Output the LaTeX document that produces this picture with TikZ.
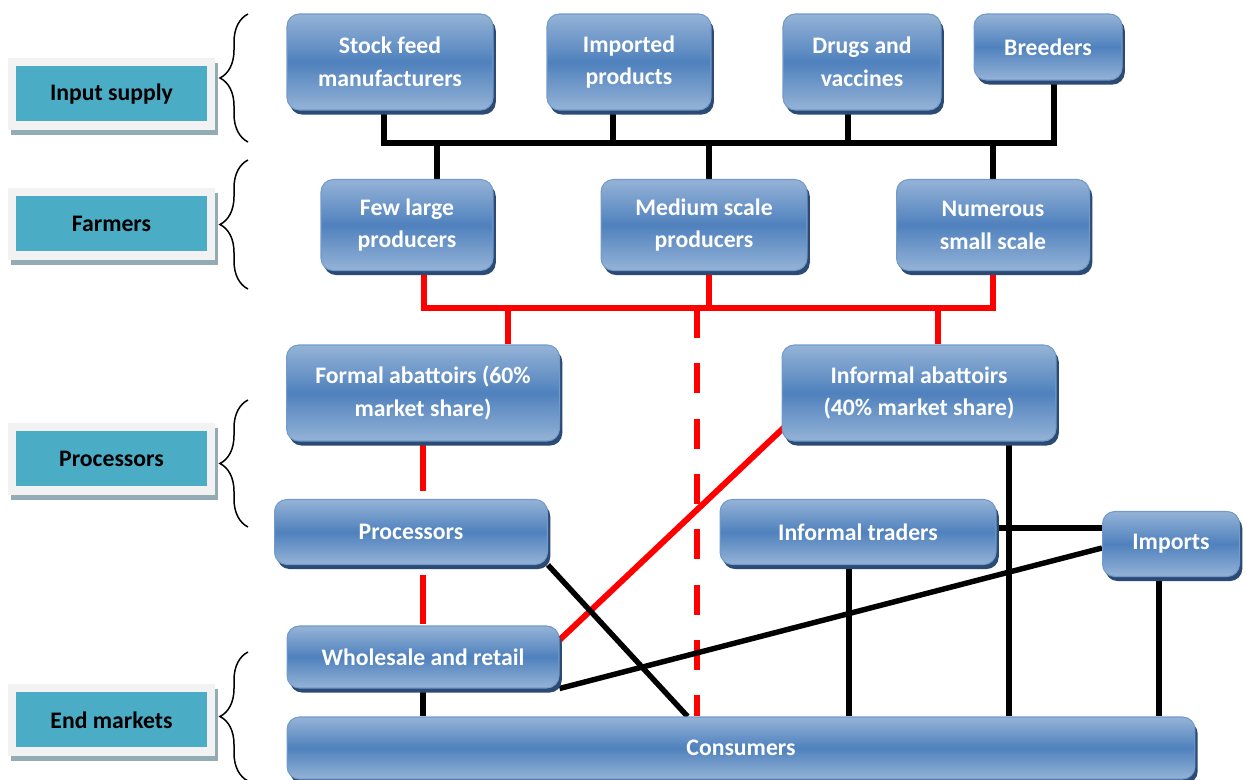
\documentclass[tikz,border=0pt]{standalone}
\usepackage{fontspec}
\setmainfont{Carlito}
\usepackage{tikz}
\usetikzlibrary{calc,shadows,backgrounds,decorations.pathreplacing}
\definecolor{chainblue}{HTML}{4F81BD}
\definecolor{chainlight}{HTML}{95B3D7}
\definecolor{chainshadow}{HTML}{2B4A74}
\definecolor{stageteal}{HTML}{4BACC6}
\definecolor{stageframe}{HTML}{F2F2F2}
\definecolor{stageshadow}{HTML}{93ABB5}
\definecolor{flowred}{HTML}{FF0000}
\tikzset{
  chainbox/.style={draw=chainblue!80!white, line width=0.6pt, rounded corners=7pt,
    top color=chainlight, bottom color=chainlight, middle color=chainblue,
    text=white, font=\bfseries\fontsize{13.5}{18.7}\selectfont, align=center, inner sep=2pt,
    drop shadow={shadow xshift=1.6pt, shadow yshift=-2.6pt, fill=chainshadow, opacity=1}},
  stagebox/.style={fill=stageframe, minimum width=4.14cm, minimum height=1.44cm,
    font=\bfseries\fontsize{13.5}{18.7}\selectfont, text=black,
    drop shadow={shadow xshift=1.8pt, shadow yshift=-2.6pt, fill=stageshadow, opacity=1},
    path picture={\fill[stageteal] ($(path picture bounding box.south west)+(4.5pt,5pt)$)
      rectangle ($(path picture bounding box.north east)+(-4.5pt,-4.5pt)$);}},
  stagebrace/.style={decorate, decoration={brace, amplitude=0.56cm}, line width=0.85pt},
  busline/.style={line width=3.6pt, black},
  chainline/.style={line width=3.1pt, black},
  redline/.style={line width=3.4pt, flowred},
  reddash/.style={redline, dash pattern=on 17pt off 14.5pt},
}

\begin{document}
\begin{tikzpicture}[x=0.02cm, y=-0.02cm]
  \useasboundingbox (0,0) rectangle (1247,780);

  % Stage labels and braces
  \node[stagebox] (lblinput) at (111.5,94) {Input supply};
  \node[stagebox] (lblfarm) at (111.5,224) {Farmers};
  \node[stagebox] (lblproc) at (111.5,459) {Processors};
  \node[stagebox] (lblend) at (111.5,720) {End markets};
  \draw[stagebrace] (248,142) -- (248,14);
  \draw[stagebrace] (248,289) -- (248,160);
  \draw[stagebrace] (248,527) -- (248,400);
  \draw[stagebrace] (248,781) -- (248,652);

  % Input supply
  \node[chainbox, minimum width=4.12cm, minimum height=1.92cm] (feed) at (390,62) {Stock feed\\manufacturers};
  \node[chainbox, minimum width=3.28cm, minimum height=1.92cm] (imp) at (629,62) {Imported\\products};
  \node[chainbox, minimum width=3.16cm, minimum height=1.92cm] (drugs) at (862,62) {Drugs and\\vaccines};
  \node[chainbox, minimum width=2.96cm, minimum height=1.32cm] (breed) at (1048,47) {Breeders};

  % Farmers
  \node[chainbox, minimum width=3.44cm, minimum height=1.82cm] (large) at (407,225) {Few large\\producers};
  \node[chainbox, minimum width=4.12cm, minimum height=1.82cm] (medium) at (704,225) {Medium scale\\producers};
  \node[chainbox, minimum width=3.86cm, minimum height=1.82cm] (small) at (993,225) {Numerous\\small scale};

  % Processors
  \node[chainbox, minimum width=5.46cm, minimum height=1.92cm] (formal) at (423,393) {Formal abattoirs (60\%\\market share)};
  \node[chainbox, minimum width=5.48cm, minimum height=1.92cm] (informal) at (919,393) {Informal abattoirs\\(40\% market share)};
  \node[chainbox, minimum width=5.46cm, minimum height=1.3cm] (proc) at (411,532) {Processors};
  \node[chainbox, minimum width=5.52cm, minimum height=1.3cm] (traders) at (858,532) {Informal traders};
  \node[chainbox, minimum width=2.74cm, minimum height=1.3cm] (imports) at (1171,544) {Imports};

  % End markets
  \node[chainbox, minimum width=5.44cm, minimum height=1.24cm] (whole) at (423,657) {Wholesale and retail};
  \node[chainbox, minimum width=18.16cm, minimum height=1.24cm] (cons) at (741,748) {Consumers};

  \begin{pgfonlayer}{background}
    % inputs to farmers
    \coordinate (tbus) at (0,143);
    \coordinate (feedtap) at ($(feed.south)+(-6,0)$);
    \coordinate (imptap) at ($(imp.south)+(-16,0)$);
    \coordinate (drugtap) at ($(drugs.south)+(-14,0)$);
    \coordinate (breedtap) at ($(breed.south)+(6,0)$);
    \coordinate (largein) at ($(large.north)+(30,0)$);
    \coordinate (medin) at ($(medium.north)+(5,0)$);
    \draw[busline] (feedtap) -- (feedtap |- tbus) -- (breedtap |- tbus) -- (breedtap);
    \draw[busline] (imptap) -- (imptap |- tbus);
    \draw[busline] (drugtap) -- (drugtap |- tbus);
    \draw[busline] (largein |- tbus) -- (largein);
    \draw[busline] (medin |- tbus) -- (medin);
    \draw[busline] (small.north |- tbus) -- (small.north);

    % farmers to abattoirs
    \coordinate (rbus) at (0,308);
    \coordinate (largetap) at ($(large.south)+(17,0)$);
    \coordinate (medtap) at ($(medium.south)+(5,0)$);
    \coordinate (formaltap) at ($(formal.north)+(85,0)$);
    \coordinate (informaltap) at ($(informal.north)+(19,0)$);
    \coordinate (midtap) at ($(cons.north west)+(410,0)$);
    \draw[redline] (largetap) -- (largetap |- rbus) -- (small.south |- rbus) -- (small.south);
    \draw[redline] (medtap) -- (medtap |- rbus);
    \draw[redline] (formaltap |- rbus) -- (formaltap);
    \draw[redline] (informaltap |- rbus) -- (informaltap);
    \draw[reddash] (midtap |- rbus) -- (midtap);
    \draw[redline, dash pattern=on 28pt off 48pt] (formal.south) -- (whole.north);
    \draw[redline] ($(whole.east)+(0,-17)$) -- ($(informal.west)+(3,34)$);

    % to consumers
    \coordinate (inftap) at ($(informal.south)+(90,0)$);
    \coordinate (tradetap) at ($(traders.south)+(-9,0)$);
    \coordinate (impdown) at ($(imports.south)+(-12,0)$);
    \draw[chainline] (proc.south east) -- ($(cons.north west)+(401,0)$);
    \draw[chainline] (whole.south east) -- ($(imports.west)+(0,4)$);
    \draw[busline] ($(traders.east)+(0,-4)$) -- ($(imports.west)+(0,-16)$);
    \draw[chainline] (inftap) -- (inftap |- cons.north);
    \draw[chainline] (tradetap) -- (tradetap |- cons.north);
    \draw[chainline] (impdown) -- (impdown |- cons.north);
    \draw[chainline] (whole.south) -- (whole.south |- cons.north);
  \end{pgfonlayer}
\end{tikzpicture}
\end{document}
